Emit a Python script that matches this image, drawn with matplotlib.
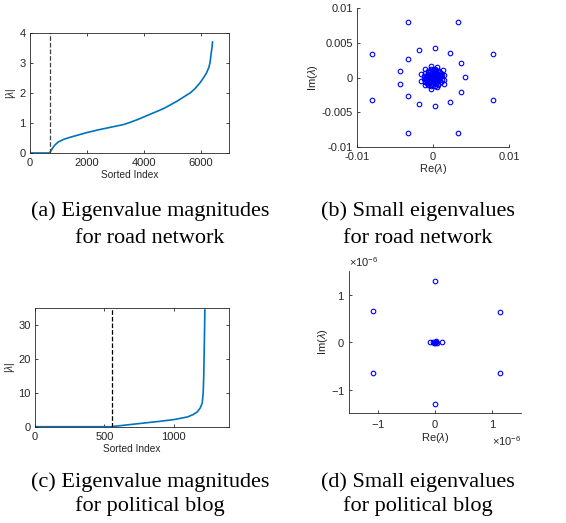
import numpy as np
import matplotlib
matplotlib.use("Agg")
import matplotlib.pyplot as plt
from matplotlib.ticker import ScalarFormatter

plt.rcParams['font.family'] = ['Liberation Sans', 'DejaVu Sans']
plt.rcParams['mathtext.fontset'] = 'custom'
plt.rcParams['mathtext.rm'] = 'Liberation Sans'
plt.rcParams['mathtext.it'] = 'Liberation Sans:italic'
plt.rcParams['axes.unicode_minus'] = False

# ---- data ----
# (a) sorted eigenvalue magnitudes, road network
road_idx = [0, 700, 720, 800, 880, 1000, 1200, 1400, 1700, 2000, 2400, 2700,
            3000, 3300, 3520, 3800, 4200, 4700, 5160, 5630, 5800, 5980, 6100,
            6210, 6290, 6330, 6370, 6400, 6420]
road_mag = [0, 0, 0.05, 0.17, 0.27, 0.37, 0.46, 0.52, 0.60, 0.68, 0.77, 0.83,
            0.89, 0.95, 1.02, 1.12, 1.28, 1.48, 1.72, 2.0, 2.14, 2.34, 2.5,
            2.67, 2.85, 3.0, 3.3, 3.5, 3.7]
road_cut = 703

# (b) small eigenvalues, road network (units of 1e-3)
road_re = [-3.3, 3.35, -8.0, 7.95, -8.0, 7.95, -3.3, 3.35,
           0.22, -1.8, 2.23, -3.32, 3.71, -4.37, 4.15, -4.37, 3.71, -3.32, 2.23, -1.8, 0.22,
           -0.26, 0.57, -1.0, 1.31, -1.53, 1.4, -1.62, 1.4, -1.0, 0.57, -0.26, 1.4,
           0.0, 0.2, -0.2, 0.1, -0.15, 0.35, -0.35, 0.35, -0.35, 0.5, -0.5, 0.05, 0.0,
           0.7, -0.7, 0.7, -0.65, 0.4, -0.4, 0.45, -0.4, 0.9, -0.9, 0.1, 0.05,
           1.0, -1.05, 1.0, -1.0, 0.75, -0.7, 0.7, -0.65, 1.2, -1.2, 1.15, -1.2,
           0.25, -0.3, 0.3, -0.2, 0.15, -0.1, 0.25, -0.3, 0.6, -0.55, 0.2, -0.2,
           0.55, -0.55, 0.5, -0.5, 0.85, -0.85, 0.8, -0.8, 0.3, -0.3, 0.0, 0.0,
           1.05, -1.05, 0.95, -0.95, 0.45, -0.45, 0.6, -0.6, 0.15, -0.1, 0.65, -0.65,
           0.1, -0.05, 0.4, -0.4, 0.8, -0.85]
road_im = [8.0, 8.0, 3.37, 3.37, -3.28, -3.28, -7.95, -7.95,
           4.24, 3.95, 3.57, 2.7, 2.12, 1.01, 0.05, -0.92, -2.07, -2.65, -3.52, -3.9, -4.14,
           1.69, 1.45, 1.2, 1.06, 0.53, 0.34, -0.48, -0.39, -1.11, -1.35, -1.59, -0.96,
           0.0, 0.1, 0.15, -0.2, -0.2, 0.3, 0.3, -0.3, -0.35, 0.0, 0.05, 0.5, -0.5,
           0.4, 0.4, -0.45, -0.45, 0.75, 0.8, -0.75, -0.8, 0.1, 0.0, 0.95, -0.95,
           0.7, 0.65, -0.65, -0.6, 1.0, 1.0, -1.0, -1.05, 0.3, 0.2, -0.3, -0.25,
           1.25, 1.3, -1.25, -1.25, 0.3, 0.35, -0.1, 0.0, 0.2, -0.2, 0.7, -0.65,
           0.55, 0.55, -0.55, -0.5, 0.25, 0.3, -0.2, -0.25, 0.1, -0.05, 0.25, -0.25,
           0.15, -0.1, 0.45, -0.4, 1.05, 1.0, -1.05, -1.0, 1.1, -1.1, 0.05, -0.1,
           0.65, -0.7, 0.15, -0.15, 0.85, -0.85]

# (c) sorted eigenvalue magnitudes, political blog
blog_idx = [0, 550, 613, 700, 800, 900, 1000, 1100, 1140, 1170, 1190, 1205,
            1212, 1216, 1219, 1222, 1224]
blog_mag = [0, 0, 0.3, 0.7, 1.15, 1.6, 2.1, 2.9, 3.6, 4.4, 5.5, 7.0,
            10, 15, 22, 29, 34.5]
blog_cut = 553

# (d) small eigenvalues, political blog (units of 1e-6)
blog_re = [-0.01, -0.01, -1.09, -1.09, 1.13, 1.13, -0.087, 0.115,
           0.0, 0.02, -0.02, 0.03, -0.03, 0.01, -0.01]
blog_im = [1.30, -1.30, 0.65, -0.66, 0.63, -0.64, 0.0, 0.0,
           0.0, 0.01, -0.01, -0.01, 0.01, 0.02, -0.02]

captions = [("(a) Eigenvalue magnitudes", "for road network"),
            ("(b) Small eigenvalues", "for road network"),
            ("(c) Eigenvalue magnitudes", "for political blog"),
            ("(d) Small eigenvalues", "for political blog")]

blue = '#0072BD'
gray = '#262626'
tick_fs = 8
lab_fs = 7.3


def style(ax, box):
    for s in ax.spines.values():
        s.set_color(gray)
        s.set_linewidth(0.6)
    if not box:
        ax.spines['top'].set_visible(False)
        ax.spines['right'].set_visible(False)
    ax.tick_params(direction='in', length=2.5, width=0.6, color=gray,
                   labelcolor=gray, labelsize=tick_fs, top=box, right=box)
    ax.tick_params(axis='x', pad=3.5)
    ax.tick_params(axis='y', pad=3)


fig = plt.figure(figsize=(5.66, 5.23), dpi=100)

# (a)
ax = fig.add_axes([0.053, 0.7075, 0.3516, 0.2294])
ax.plot(road_idx, road_mag, color=blue, lw=1.2)
ax.axvline(road_cut, color='#404040', ls='--', lw=0.9)
ax.set_xlim(0, 7000)
ax.set_ylim(0, 4)
ax.set_xticks([0, 2000, 4000, 6000])
ax.set_yticks([0, 1, 2, 3, 4])
ax.set_xlabel('Sorted Index', fontsize=lab_fs, color=gray, labelpad=1.5)
ax.set_ylabel(r'$|\lambda|$', fontsize=lab_fs, color=gray, labelpad=1)
style(ax, True)

# (b)
ax = fig.add_axes([0.6307, 0.7195, 0.2686, 0.2646])
ax.plot(np.array(road_re) * 1e-3, np.array(road_im) * 1e-3, 'o', mfc='none',
        mec='blue', ms=3.3, mew=0.8)
ax.set_xlim(-0.01, 0.01)
ax.set_ylim(-0.01, 0.01)
ax.set_xticks([-0.01, 0, 0.01])
ax.set_xticklabels(['-0.01', '0', '0.01'])
ax.set_yticks([-0.01, -0.005, 0, 0.005, 0.01])
ax.set_yticklabels(['-0.01', '-0.005', '0', '0.005', '0.01'])
ax.set_xlabel(r'Re($\lambda$)', fontsize=tick_fs, color=gray, labelpad=0.5)
ax.set_ylabel(r'Im($\lambda$)', fontsize=tick_fs, color=gray, labelpad=1)
style(ax, False)

# (c)
ax = fig.add_axes([0.0618, 0.1841, 0.3433, 0.2264])
ax.plot(blog_idx, blog_mag, color=blue, lw=1.2)
ax.axvline(blog_cut, color='black', ls='--', lw=0.9)
ax.set_xlim(0, 1400)
ax.set_ylim(0, 35)
ax.set_xticks([0, 500, 1000])
ax.set_yticks([0, 10, 20, 30])
ax.set_xlabel('Sorted Index', fontsize=lab_fs, color=gray, labelpad=1.5)
ax.set_ylabel(r'$|\lambda|$', fontsize=lab_fs, color=gray, labelpad=1)
style(ax, True)

# (d)
ax = fig.add_axes([0.6172, 0.2097, 0.3033, 0.2721])
ax.plot(np.array(blog_re) * 1e-6, np.array(blog_im) * 1e-6, 'o', mfc='none',
        mec='blue', ms=3.3, mew=0.8)
ax.set_xlim(-1.5e-6, 1.5e-6)
ax.set_ylim(-1.5e-6, 1.5e-6)
ax.set_xticks([-1e-6, 0, 1e-6])
ax.set_yticks([-1e-6, 0, 1e-6])
for axis in (ax.xaxis, ax.yaxis):
    fmt = ScalarFormatter(useMathText=True)
    fmt.set_powerlimits((0, 0))
    axis.set_major_formatter(fmt)
    axis.get_offset_text().set_fontsize(tick_fs)
    axis.get_offset_text().set_color(gray)
ax.set_xlabel(r'Re($\lambda$)', fontsize=tick_fs, color=gray, labelpad=0.5)
ax.set_ylabel(r'Im($\lambda$)', fontsize=tick_fs, color=gray, labelpad=1)
style(ax, False)

# captions
cx = [150, 418, 150, 418]
cy = [(216, 243), (216, 243), (487, 511), (487, 511)]
for (l1, l2), x, (y1, y2) in zip(captions, cx, cy):
    for txt, y in ((l1, y1), (l2, y2)):
        fig.text(x / 566, 1 - y / 523, txt, ha='center', va='baseline',
                 fontsize=16, family='Liberation Serif')

fig.savefig('out.png', dpi=100)
